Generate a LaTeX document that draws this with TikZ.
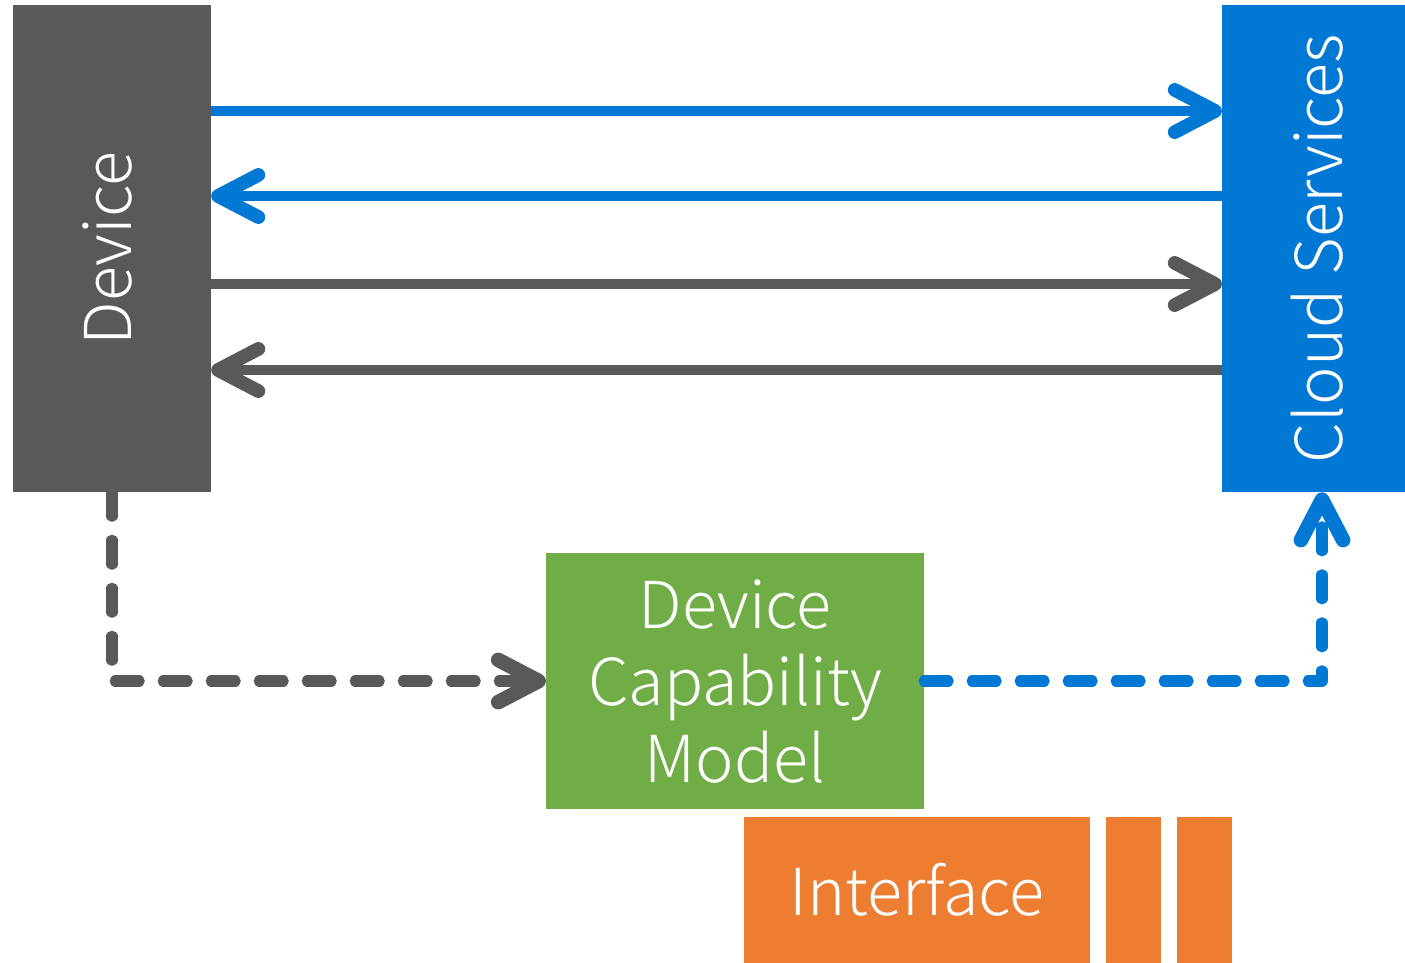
\documentclass[tikz,border=0pt]{standalone}
\usepackage{fontspec}
\setmainfont{Noto Sans CJK JP}[UprightFont=* Light]
\usetikzlibrary{arrows.meta}
\definecolor{devgray}{HTML}{595959}
\definecolor{cloudblue}{HTML}{0078D4}
\definecolor{dcmgreen}{HTML}{70AD47}
\definecolor{ifaceorange}{HTML}{ED7D31}
\begin{document}
\begin{tikzpicture}[x=0.01cm,y=-0.01cm,
  box/.style={draw=none, inner sep=0pt, outer sep=0pt, text=white,
    font=\fontsize{18.4}{21.9}\selectfont, align=center},
  tip/.style={-{Straight Barb[round,length=11.5pt,width=12pt,line width=0pt 1.3]}},
  link/.style={line width=3pt, tip},
  dlink/.style={line width=3.2pt, tip, line cap=round, line join=round, dash pattern=on 6.8pt off 6.85pt}]
\useasboundingbox (0,0) rectangle (1405,963);
% main blocks
\node[box, fill=devgray, anchor=north west, minimum width=1.98cm, minimum height=4.87cm] (dev) at (13,5) {};
\node[box, rotate=90] at ([xshift=-0.05cm]dev.center) {Device};
\node[box, fill=cloudblue, anchor=north west, minimum width=1.83cm, minimum height=4.87cm] (cloud) at (1222,5) {};
\node[box, rotate=90] at ([xshift=0.04cm]cloud.center) {Cloud Services};
\node[box, fill=dcmgreen, anchor=north west, minimum width=3.78cm, minimum height=2.56cm] (dcm) at (546,553) {Device\\Capability\\Model};
% interface blocks
\node[box, fill=ifaceorange, anchor=north west, minimum width=3.46cm, minimum height=1.46cm] (if1) at (744,817) {Interface};
\node[box, fill=ifaceorange, anchor=north west, minimum width=0.55cm, minimum height=1.46cm] (if2) at (1106,817) {};
\node[box, fill=ifaceorange, anchor=north west, minimum width=0.55cm, minimum height=1.46cm] (if3) at (1177,817) {};
% device <-> cloud messages
\draw[link, cloudblue] (dev.east |- 0,111) -- (cloud.west |- 0,111);
\draw[link, cloudblue] (cloud.west |- 0,196) -- (dev.east |- 0,196);
\draw[link, devgray] (dev.east |- 0,284) -- (cloud.west |- 0,284);
\draw[link, devgray] (cloud.west |- 0,370) -- (dev.east |- 0,370);
% model links
\coordinate (c1) at (112,681);
\coordinate (c2) at (1322,681);
\draw[dlink, devgray] (dev.south -| c1) -- (c1) -- (dcm.west |- c1);
\draw[dlink, cloudblue] (dcm.east |- c2) -- (c2) -- (cloud.south -| c2);
\end{tikzpicture}
\end{document}
